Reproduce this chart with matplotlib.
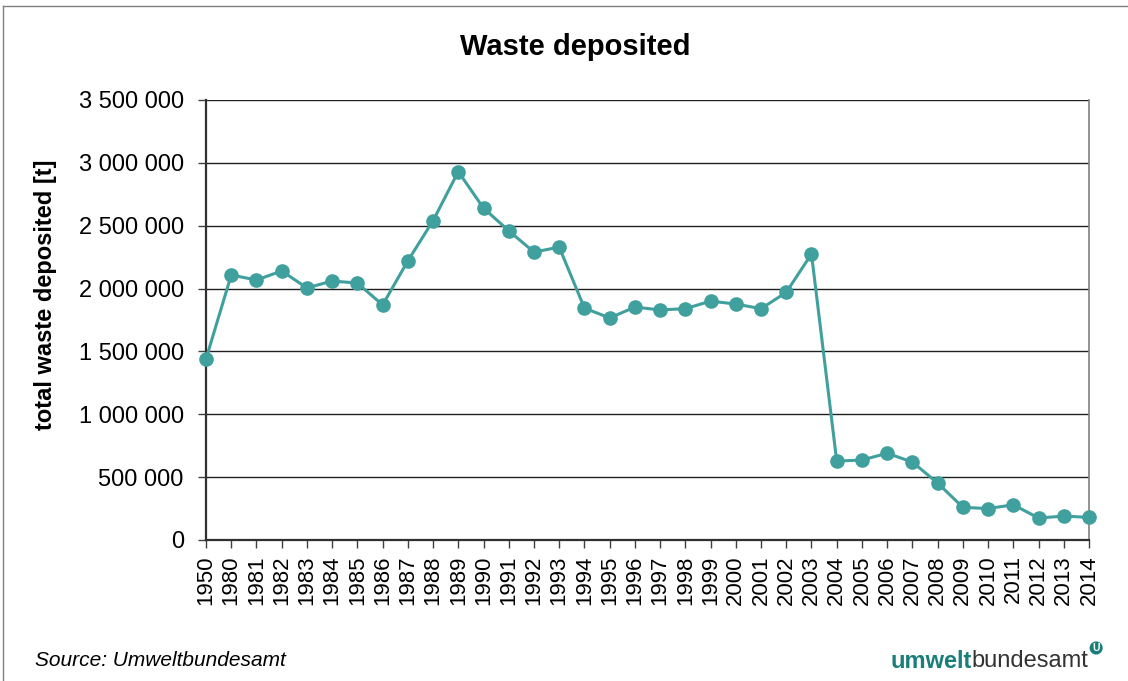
import matplotlib
matplotlib.use("Agg")
import matplotlib.pyplot as plt
from matplotlib.ticker import FuncFormatter

plt.rcParams['font.family'] = ['Liberation Sans', 'DejaVu Sans']

years = ['1950'] + [str(y) for y in range(1980, 2015)]
waste = [1440000, 2108000, 2068000, 2140000, 2005000, 2060000, 2044000, 1870000,
         2220000, 2540000, 2930000, 2640000, 2460000, 2290000, 2330000, 1845000,
         1766000, 1853000, 1830000, 1840000, 1900000, 1877000, 1840000, 1970000,
         2275000, 628000, 636000, 690000, 620000, 453000, 260000, 250000,
         280000, 175000, 190000, 180000]
yticks = [0, 500000, 1000000, 1500000, 2000000, 2500000, 3000000, 3500000]

teal = '#40a09d'

fig = plt.figure(figsize=(11.28, 6.81), dpi=100)
ax = fig.add_axes([206/1128, 1 - 540/681, (1089-206)/1128, (540-100)/681])

x = list(range(len(years)))
ax.plot(x, waste, color=teal, lw=2.2, marker='o', markersize=9.5,
        markerfacecolor=teal, markeredgecolor=teal, clip_on=False, zorder=5)

ax.set_xlim(0, len(years) - 1)
ax.set_ylim(0, 3500000)
ax.set_yticks(yticks)
ax.yaxis.set_major_formatter(FuncFormatter(lambda v, p: f"{int(v):,}".replace(",", " ")))
ax.set_xticks(x)
ax.set_xticklabels(years, rotation=90, fontsize=16)
ax.tick_params(axis='y', labelsize=17, length=6, width=1, color='#404040', pad=10)
ax.tick_params(axis='x', length=6, width=1, color='#404040', pad=5)
ax.grid(axis='y', color='#202020', lw=1)
ax.set_axisbelow(True)
for s in ['left', 'bottom']:
    ax.spines[s].set_color('#303030')
    ax.spines[s].set_linewidth(1.6)
ax.spines['right'].set_color('#808080')
ax.spines['right'].set_linewidth(1.2)
ax.spines['top'].set_visible(False)

ax.set_ylabel('total waste deposited [t]', fontsize=17, fontweight='bold')
ax.yaxis.set_label_coords((45 - 206) / (1089 - 206), (540 - 295) / 440)
ax.yaxis.label.set_va('center')

fig.text(575/1128, 1 - 47/681, 'Waste deposited', fontsize=21, fontweight='bold',
         ha='center', va='center')
fig.text(35/1128, 1 - 661/681, 'Source: Umweltbundesamt', fontsize=15,
         style='italic', ha='left', va='center')

# logo
t1 = fig.text(890/1128, 1 - 661/681, 'umwelt', fontsize=17, fontweight='bold',
              color='#1a7f7a', ha='left', va='center')
fig.canvas.draw()
bb = t1.get_window_extent()
t2 = fig.text(bb.x1/1128, 1 - 661/681, 'bundesamt', fontsize=17, color='#333333',
              ha='left', va='center')
fig.canvas.draw()
bb2 = t2.get_window_extent()
fig.text(bb2.x1/1128 + 0.007, 1 - 648/681, 'U', fontsize=7.5, fontweight='bold', color='white',
         ha='center', va='center',
         bbox=dict(boxstyle='circle,pad=0.15', fc='#1a7f7a', ec='none'))

# outer frame
fig.add_artist(plt.Line2D([3/1128, 3/1128], [0, 1 - 6/681], transform=fig.transFigure,
                          color='#808080', lw=1))
fig.add_artist(plt.Line2D([3/1128, 1], [1 - 6/681, 1 - 6/681], transform=fig.transFigure,
                          color='#808080', lw=1))

fig.savefig('out.png', dpi=100)
